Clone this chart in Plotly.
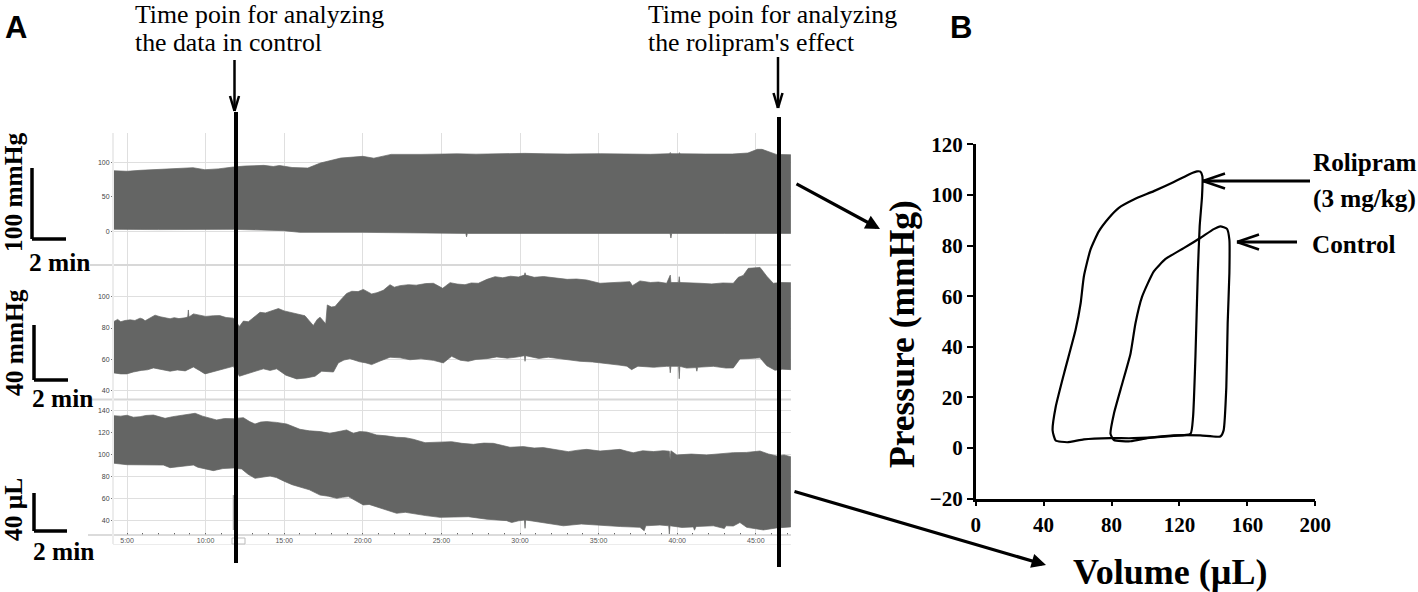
import plotly.graph_objects as go

W=1418
H=592

# panel A, envelopes of the traces (minutes, value)
top_up_t=[4.17,5.0,5.83,7.0,8.2,9.2,9.95,10.8,11.75,12.5,13.7,14.3,14.7,15.5,16.5,17.3,18.6,20.0,20.7,21.8,23.7,24.9,26.0,27.2,28.4,30.3,31.6,33.0,35.1,37.0,38.3,39.5,39.56,39.6,40.1,40.14,40.18,41.8,43.5,44.5,45.1,45.4,46.3,47.22]
top_up_v=[87.8,87,88.4,89.5,90.5,92.2,89.3,90.5,93.2,94.6,95.6,94,95.4,92.5,91.7,99,106.2,108.7,106,111.5,111.5,112.2,112.3,111.8,112.5,113,112.4,112,112.5,112,111.6,112.5,114.2,112.5,112.4,114,112.4,112,112,113.5,118.8,118.8,111.5,111]
top_lo_t=[4.17,7.0,11.76,14.95,16.0,20.0,26.55,26.6,26.65,33.0,39.55,39.6,39.65,43.0,47.22]
top_lo_v=[2.9,2.5,2.9,1,-1.5,-1.5,-3,-8,-3,-3,-3,-9.7,-3,-3,-3]

mid_up_t=[4.17,4.4,4.6,4.87,5.2,5.5,5.83,6.0,6.15,6.4,6.78,7.1,7.4,7.74,8.0,8.3,8.69,8.86,8.9,8.94,9.22,9.6,10.0,10.49,10.9,11.3,11.76,12.15,12.4,12.72,13.1,13.46,13.8,14.2,14.63,15.0,15.58,16.0,16.32,16.6,16.85,17.1,17.28,17.64,17.74,18.0,18.23,18.6,18.97,19.3,19.7,20.03,20.3,20.56,20.9,21.3,21.73,22.0,22.37,22.9,23.4,24.0,24.49,25.08,25.55,26.0,26.5,26.9,27.35,27.9,28.41,28.9,29.4,29.9,30.28,30.32,30.36,30.9,31.5,32.33,33.0,33.6,34.24,35.09,35.7,36.4,36.99,37.15,37.63,38.3,38.8,39.33,39.56,39.6,40.09,40.13,40.17,40.8,41.45,42.2,42.9,43.57,43.89,44.2,44.52,45.27,45.7,46.11,46.6,47.22]
mid_up_v=[84.2,85.5,84,84.8,85.2,84.8,86.3,85.7,84.6,86,88.2,87.2,86.6,85.9,86.6,86,86.5,87,91.5,87,89,88.1,87.4,87.8,87.9,86.7,86.3,81,84.4,84,87,90,89.6,90.8,92.4,90.9,89.4,88.7,87.8,84.5,81.6,85.5,86.9,82.7,94.7,93.4,93.7,98,102,103.4,103.2,104.6,103,101.7,102.5,104,107.6,106,107,107.6,107.3,108.3,108.5,105.3,108.9,108,107.6,108.7,108.5,111,112.7,112,113,112.5,113.7,115.2,113.7,112.3,112.8,111.6,111,111.2,110.6,108.5,109,109.2,109.5,107,110,109,109.3,108.5,113.7,109,109,112.7,109,108.9,108.5,108.1,108.7,108.5,112.3,113.5,118,118.6,113,108.5,109,108.9]
mid_lo_t=[4.17,4.6,4.98,5.4,5.9,6.3,6.68,7.2,7.74,8.2,8.7,9.22,9.6,9.96,10.5,11.2,11.76,12.15,12.8,13.2,13.67,14.1,14.52,15.1,15.79,16.4,16.96,17.38,18.13,18.44,18.8,19.18,19.8,20.2,20.56,21.1,21.73,22.37,23.0,23.7,24.49,25.12,25.65,26.2,26.71,27.2,27.9,28.52,29.2,29.8,30.28,30.32,30.36,31.2,31.8,32.33,33.0,33.82,34.6,35.51,36.3,36.8,37.1,37.5,38.5,39.33,39.52,39.56,39.6,40.09,40.13,40.17,40.6,41.2,41.25,41.3,42.3,43.1,43.57,43.99,44.5,45.27,45.7,46.22,46.7,47.22]
mid_lo_v=[51.4,50.8,50.8,52,53,53.4,54.6,53.5,52.5,53.3,52.7,55.2,53,50.8,52.5,54,55.6,49.3,51.5,52.6,54,53,54,50,47.6,48.2,49.3,52.5,52,57.8,59.6,60.5,58.5,57.8,56.7,59,61.4,61,59.8,60.4,59.4,57.8,62,59.5,58.8,60,60.5,61.6,60.8,61.5,62.4,58.8,62.4,60.6,61.4,61,59.8,58.8,58.4,57.5,56.4,55.7,53.5,55.7,55,55.6,55.6,51.5,55.6,55.6,47.7,55.6,54.5,54.8,52.5,55,55.6,54.5,54.6,60.3,60.5,61,56,53.1,53.8,53.5]

bot_up_t=[4.17,4.6,5.0,5.4,5.83,6.2,6.68,7.0,7.42,7.9,8.5,9.33,9.8,10.3,10.7,11.2,11.76,12.4,12.8,13.14,13.5,13.88,14.5,15.16,15.6,16.0,16.6,17.3,17.9,18.4,18.97,19.4,19.8,20.25,20.88,21.5,22.15,22.7,23.21,23.96,24.8,25.65,26.3,27.03,27.7,28.3,28.9,29.36,30.21,30.9,31.48,32.3,33.07,33.7,34.24,35.09,35.8,36.36,36.8,37.2,37.8,38.5,39.12,39.5,39.55,39.6,39.97,40.9,41.87,42.7,43.57,44.4,45.27,45.8,46.33,46.8,47.22]
bot_up_v=[135.4,135,135.8,134,134.5,135.6,136,134.4,133,134.5,135.7,137.6,135,133,131.5,132.8,132.7,133.6,130,127.8,129.6,130,129.3,127.8,125.4,123,121.6,120.9,119.3,121,122.4,119.3,120.9,120.5,117.8,117,115.7,115.4,113.9,110.8,111.3,111.7,110.2,109.3,110.4,110.2,108.2,106.6,107.2,105.9,106.3,104.4,102.6,104,104.7,103.2,104.2,104.7,103,101.6,103.4,102.7,103.5,103,95.5,103.4,99.6,100.4,99.6,100.7,101.7,101.9,103.2,100.5,98.7,99.6,98]
bot_lo_t=[4.17,5.0,5.83,6.5,7.31,7.74,8.4,9.22,9.5,10.07,10.49,11.1,11.76,12.29,12.7,13.14,13.6,14.1,14.5,14.95,15.5,16.0,16.6,17.28,17.8,18.34,18.7,19.08,19.5,20.03,20.4,20.88,21.5,22.15,22.7,23.21,24.0,24.91,25.8,26.71,27.9,29.15,29.47,29.9,30.28,30.32,30.36,31.4,32.76,33.9,35.09,36.4,37.63,37.9,38.0,38.9,39.46,39.5,39.54,40.3,41.03,41.1,41.2,42.3,43.0,43.1,43.57,43.99,44.42,44.9,45.48,46.3,47.22]
bot_lo_v=[92,90.7,90.1,90.5,90.4,88,89.2,90.4,88.4,86.5,85.3,87.2,87.7,86.8,82,78.3,79.6,80.4,79,75.9,72.5,70,67.8,63,62,60,61,61.6,58,54,54.5,52.4,49.5,46.4,47.3,45.8,44.3,42.7,43,43.3,41,39.7,38,39.5,40.3,32.7,40.3,38,35,36.6,35.7,34.3,33.6,30.5,35,35.7,35,27.5,35,33.5,34,31,34.3,35,32.5,35,34.8,38,33.6,32.8,31.2,33,34]

time_ticks=[5,10,15,20,25,30,35,40,45]
time_labels=["5:00","10:00","15:00","20:00","25:00","30:00","35:00","40:00","45:00"]

# panel B, pressure volume loops
rol_vol=[132.3,133.5,133.3,131.9,130.8,129.4,128.0,126.5,116.7,93.1,79.4,63.7,53.9,47.1,45.3,47.1,52,58.8,61.8,63.7,67.6,72.5,78.4,84.3,93.1,104.9,116.7,126.5,130.4,132.3]
rol_pre=[109.2,107.4,99.5,87.6,69.1,36.0,12.2,5.6,4.8,3.9,3.9,3.4,2.3,3.0,6.95,16.2,29.4,46.6,57.2,67.8,78.4,85.6,90.9,94.9,98.2,101.5,105.1,108.4,109.3,109.2]
ctl_vol=[144.1,148,149.4,149.4,148.4,147.6,146,144.1,132.3,116.7,101,91.2,81.4,79.4,81.4,86.3,91.2,94.1,98,104.9,111.8,122.5,132.3,140.2,144.1]
ctl_pre=[87.6,86.6,82.3,69.1,49.3,24.1,7,4.6,5,5,3.9,2.7,3.2,5.6,13.6,25.5,37.4,49.3,59.8,69.8,74.7,79,83,86.5,87.6]

GREY="#646564"
SERIF="Liberation Serif"

def px(x):
    return x/W
def py(y):
    return 1-y/H

fig=go.Figure()

def add_env(t_up,v_up,t_lo,v_lo,n):
    fig.add_trace(go.Scatter(x=t_up+t_lo[::-1],y=v_up+v_lo[::-1],mode="lines",fill="toself",
                             fillcolor=GREY,line=dict(color=GREY,width=0.7),
                             xaxis="x"+n,yaxis="y"+n,showlegend=False))

add_env(top_up_t,top_up_v,top_lo_t,top_lo_v,"")
add_env(mid_up_t,mid_up_v,mid_lo_t,mid_lo_v,"2")
add_env(bot_up_t,bot_up_v,bot_lo_t,bot_lo_v,"3")

fig.add_trace(go.Scatter(x=rol_vol,y=rol_pre,mode="lines",line=dict(color="black",width=2.2,shape="spline",smoothing=0.5),
                         xaxis="x4",yaxis="y4",showlegend=False))
fig.add_trace(go.Scatter(x=ctl_vol,y=ctl_pre,mode="lines",line=dict(color="black",width=2.2,shape="spline",smoothing=0.5),
                         xaxis="x4",yaxis="y4",showlegend=False))

grid="#dfdfdf"
dom_x=[px(114),px(791)]
x_range=[4.17,47.24]
def strip_x(last=False):
    d=dict(domain=dom_x,range=x_range,tickvals=time_ticks,showgrid=True,gridcolor=grid,gridwidth=1,zeroline=False)
    if last:
        d.update(ticktext=time_labels,ticks="",tickfont=dict(family="Liberation Sans",size=7,color="#555555"),
                 showline=False,minor=dict(dtick=1,ticks="inside",ticklen=2,tickcolor="#666666",showgrid=False))
    else:
        d.update(showticklabels=False,ticks="")
    return d
def strip_y(top,bottom,rng,vals):
    return dict(domain=[py(bottom),py(top)],range=rng,tickvals=vals,showgrid=True,gridcolor=grid,gridwidth=1,zeroline=False,
                ticks="outside",ticklen=2,tickcolor="#777777",tickfont=dict(family="Liberation Sans",size=7,color="#444444"))

fig.update_layout(
    width=W,height=H,margin=dict(l=0,r=0,t=0,b=0,autoexpand=False),paper_bgcolor="white",plot_bgcolor="white",showlegend=False,
    xaxis=strip_x(),
    xaxis2=dict(strip_x(),anchor="y2"),
    xaxis3=dict(strip_x(True),anchor="y3"),
    yaxis=strip_y(133,265,[-48.8,142.5],[0,50,100]),
    yaxis2=dict(strip_y(266,399,[34.8,119.5],[40,60,80,100]),anchor="x2"),
    yaxis3=dict(strip_y(401,535,[26.6,148.8],[40,60,80,100,120,140]),anchor="x3"),
    xaxis4=dict(domain=[px(975.7),px(1315.3)],range=[0,200],tickvals=[0,40,80,120,160,200],anchor="y4",
                showgrid=False,zeroline=False,showline=True,linecolor="black",linewidth=2.5,ticks="outside",ticklen=5,tickwidth=1.5,tickcolor="black",
                tickfont=dict(family=SERIF,size=21,color="black",weight="bold")),
    yaxis4=dict(domain=[py(498.7),py(144.3)],range=[-20,120],tickvals=[-20,0,20,40,60,80,100,120],anchor="x4",
                showgrid=False,zeroline=False,showline=True,linecolor="black",linewidth=2.5,ticks="outside",ticklen=6,tickwidth=1.5,tickcolor="black",
                tickfont=dict(family=SERIF,size=21,color="black",weight="bold")),
)

def line(x0,y0,x1,y1,color="black",width=4):
    fig.add_shape(type="line",xref="paper",yref="paper",x0=px(x0),y0=py(y0),x1=px(x1),y1=py(y1),
                  line=dict(color=color,width=width))

# separators and bottom rule of the strips
line(90,265,791,265,"#d8d8d8",2)
line(92,399.5,791,399.5,"#d8d8d8",2)
line(88,535,791,535,"#cfcfcf",1.5)
line(113,544.5,791,544.5,"#ececec",1)
line(113,133,113,544,"#ececec",2)
fig.add_shape(type="rect",xref="paper",yref="paper",x0=px(232),y0=py(544),x1=px(245),y1=py(538),line=dict(color="#bbbbbb",width=1))
line(233.5,495,233.5,530,"#aaaaaa",1.5)

# time markers
line(236,112,236,563)
line(779,117,779,567)

# scale bars
for x,y0,y1,x1 in [(32,168,239,66),(34,325,380,68),(34,493,531,67)]:
    line(x,y0,x,y1,"black",3.5)
    line(x,y1,x1,y1,"black",3.5)

def arrow(x0,y0,x1,y1,width=3.2,size=0.9):
    fig.add_annotation(xref="paper",yref="paper",axref="pixel",ayref="pixel",x=px(x1),y=py(y1),ax=x0-x1,ay=y0-y1,
                       text="",showarrow=True,arrowhead=2,arrowsize=size,arrowwidth=width,arrowcolor="black")

# open arrows, shaft and two barbs
def down_arrow(x,y0,y1):
    line(x,y0,x,y1,"black",2.5)
    line(x,y1,x-4.5,y1-15,"black",2.5)
    line(x,y1,x+4.5,y1-15,"black",2.5)
def left_arrow(x0,x1,y):
    line(x0,y,x1,y,"black",3)
    line(x1,y,x1+22,y-7.5,"black",2.5)
    line(x1,y,x1+22,y+7.5,"black",2.5)

down_arrow(234.5,60,111)
down_arrow(778,57,108)
arrow(795,183,880,229)
arrow(793,491,1046,565)
left_arrow(1310,1203,181)
left_arrow(1297,1237,242)

def label(x,y,s,size,bold=False,angle=0,family=SERIF,anchor="left"):
    if bold:
        s="<b>"+s+"</b>"
    fig.add_annotation(xref="paper",yref="paper",x=px(x),y=py(y),text=s,showarrow=False,textangle=angle,
                       xanchor=anchor,yanchor="middle",font=dict(family=family,size=size,color="black"))

label(3,28,"A",31,True,family="Liberation Sans")
label(948,28,"B",31,True,family="Liberation Sans")
label(133,14.5,"Time poin for analyzing",25.8)
label(133,43,"the data in control",25.8)
label(646,14.5,"Time poin for analyzing",25.8)
label(646,43,"the rolipram's effect",25.8)
label(13,193,"100 mmHg",25.4,True,-90,anchor="center")
label(14,343,"40 mmHg",25.4,True,-90,anchor="center")
label(13,510,"40 µL",25.4,True,-90,anchor="center")
label(27,262,"2 min",25.4,True)
label(30,398,"2 min",25.4,True)
label(31,551,"2 min",25.4,True)
label(1311,162,"Rolipram",25.2,True)
label(1311,199,"(3 mg/kg)",25.2,True)
label(1310,244,"Control",25.2,True)
label(902,334,"Pressure (mmHg)",35.5,True,-90,anchor="center")
label(1170,572,"Volume (µL)",36,True,anchor="center")

fig.write_html("out.html",config=dict(displayModeBar=False),post_script="document.body.style.margin='0';")
